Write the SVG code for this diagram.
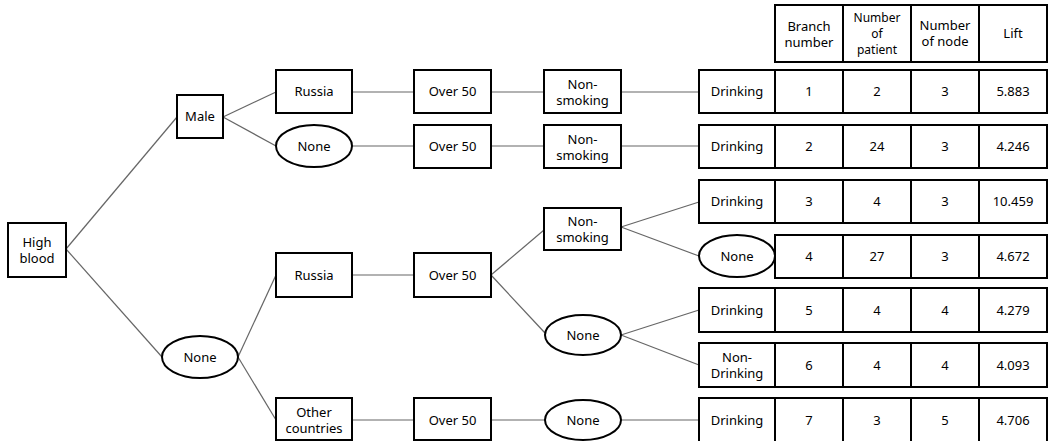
<svg xmlns="http://www.w3.org/2000/svg" width="1049" height="441" viewBox="0 0 1049 441">
<style>
.b{fill:#fff;stroke:#000;stroke-width:2}
.c{stroke:#666;stroke-width:1.2;fill:none}
text{font-family:"Noto Sans","Open Sans",sans-serif;font-size:13px;fill:#000;text-anchor:middle;dominant-baseline:central}
.s{font-size:12px}
</style>
<rect width="1049" height="441" fill="#fff"/>
<g id="connectors">
<line class="c" x1="66" y1="249" x2="177" y2="117"/>
<line class="c" x1="66" y1="249" x2="162" y2="357"/>
<line class="c" x1="223" y1="117" x2="276" y2="92"/>
<line class="c" x1="223" y1="117" x2="276" y2="146"/>
<line class="c" x1="238" y1="357" x2="276" y2="275"/>
<line class="c" x1="238" y1="357" x2="276" y2="420"/>
<line class="c" x1="352" y1="92" x2="414" y2="92"/>
<line class="c" x1="352" y1="146" x2="414" y2="146"/>
<line class="c" x1="352" y1="275" x2="414" y2="275"/>
<line class="c" x1="352" y1="420" x2="414" y2="420"/>
<line class="c" x1="491" y1="92" x2="544" y2="92"/>
<line class="c" x1="491" y1="146" x2="544" y2="146"/>
<line class="c" x1="491" y1="275" x2="544" y2="230"/>
<line class="c" x1="491" y1="275" x2="545" y2="333"/>
<line class="c" x1="491" y1="420" x2="545" y2="420"/>
<line class="c" x1="621" y1="92" x2="699" y2="92"/>
<line class="c" x1="621" y1="146" x2="699" y2="146"/>
<line class="c" x1="621" y1="227" x2="699" y2="202"/>
<line class="c" x1="621" y1="227" x2="699" y2="256"/>
<line class="c" x1="621" y1="335" x2="699" y2="310"/>
<line class="c" x1="621" y1="335" x2="699" y2="365"/>
<line class="c" x1="621" y1="420" x2="699" y2="420"/>
</g>
<g id="n_high"><rect class="b" x="8" y="223" width="58" height="54"/><text x="37" y="242">High</text><text x="37" y="258">blood</text></g>
<g id="n_male"><rect class="b" x="177" y="95" width="46" height="43"/><text x="200" y="116">Male</text></g>
<g id="n_none_g"><ellipse class="b" cx="200" cy="357" rx="38" ry="21"/><text x="200" y="357">None</text></g>
<g id="n_russia1"><rect class="b" x="276" y="70" width="76" height="43"/><text x="314" y="91">Russia</text></g>
<g id="n_none_c1"><ellipse class="b" cx="314" cy="146" rx="38" ry="21"/><text x="314" y="146">None</text></g>
<g id="n_russia2"><rect class="b" x="276" y="253" width="76" height="44"/><text x="314" y="275">Russia</text></g>
<g id="n_other"><rect class="b" x="276" y="398" width="76" height="42"/><text x="314" y="412">Other</text><text x="314" y="428">countries</text></g>
<g id="n_over1"><rect class="b" x="414" y="70" width="77" height="43"/><text x="452.5" y="91">Over 50</text></g>
<g id="n_over2"><rect class="b" x="414" y="125" width="77" height="43"/><text x="452.5" y="146">Over 50</text></g>
<g id="n_over3"><rect class="b" x="414" y="253" width="77" height="44"/><text x="452.5" y="275">Over 50</text></g>
<g id="n_over4"><rect class="b" x="414" y="398" width="77" height="42"/><text x="452.5" y="420">Over 50</text></g>
<g id="n_nonsmk1"><rect class="b" x="544" y="70" width="77" height="43"/><text x="582.5" y="84">Non-</text><text x="582.5" y="100">smoking</text></g>
<g id="n_nonsmk2"><rect class="b" x="544" y="125" width="77" height="43"/><text x="582.5" y="139">Non-</text><text x="582.5" y="155">smoking</text></g>
<g id="n_nonsmk3"><rect class="b" x="544" y="208" width="77" height="42"/><text x="582.5" y="221">Non-</text><text x="582.5" y="237">smoking</text></g>
<g id="n_none_s"><ellipse class="b" cx="583" cy="335" rx="38" ry="20"/><text x="583" y="335">None</text></g>
<g id="n_none_s2"><ellipse class="b" cx="583" cy="420" rx="38" ry="20"/><text x="583" y="420">None</text></g>
<g id="table">
<rect class="b" x="775" y="5" width="68" height="57"/><text x="809" y="26">Branch</text><text x="809" y="42">number</text>
<rect class="b" x="843" y="5" width="68" height="57"/><text class="s" x="877" y="17">Number</text><text class="s" x="877" y="33">of</text><text class="s" x="877" y="49">patient</text>
<rect class="b" x="911" y="5" width="68" height="57"/><text x="945" y="25">Number</text><text x="945" y="41">of node</text>
<rect class="b" x="979" y="5" width="68" height="57"/><text x="1013" y="33">Lift</text>
</g>
<g id="row1"><rect class="b" x="699" y="70" width="76" height="43"/><text x="737" y="91">Drinking</text>
<rect class="b" x="775" y="70" width="68" height="43"/><text x="809" y="91">1</text>
<rect class="b" x="843" y="70" width="68" height="43"/><text x="877" y="91">2</text>
<rect class="b" x="911" y="70" width="68" height="43"/><text x="945" y="91">3</text>
<rect class="b" x="979" y="70" width="68" height="43"/><text x="1013" y="91">5.883</text></g>
<g id="row2"><rect class="b" x="699" y="125" width="76" height="43"/><text x="737" y="146">Drinking</text>
<rect class="b" x="775" y="125" width="68" height="43"/><text x="809" y="146">2</text>
<rect class="b" x="843" y="125" width="68" height="43"/><text x="877" y="146">24</text>
<rect class="b" x="911" y="125" width="68" height="43"/><text x="945" y="146">3</text>
<rect class="b" x="979" y="125" width="68" height="43"/><text x="1013" y="146">4.246</text></g>
<g id="row3"><rect class="b" x="699" y="180" width="76" height="43"/><text x="737" y="201">Drinking</text>
<rect class="b" x="775" y="180" width="68" height="43"/><text x="809" y="201">3</text>
<rect class="b" x="843" y="180" width="68" height="43"/><text x="877" y="201">4</text>
<rect class="b" x="911" y="180" width="68" height="43"/><text x="945" y="201">3</text>
<rect class="b" x="979" y="180" width="68" height="43"/><text x="1013" y="201">10.459</text></g>
<g id="row4"><ellipse class="b" cx="737" cy="256" rx="38" ry="21"/><text x="737" y="256">None</text>
<rect class="b" x="775" y="235" width="68" height="43"/><text x="809" y="256">4</text>
<rect class="b" x="843" y="235" width="68" height="43"/><text x="877" y="256">27</text>
<rect class="b" x="911" y="235" width="68" height="43"/><text x="945" y="256">3</text>
<rect class="b" x="979" y="235" width="68" height="43"/><text x="1013" y="256">4.672</text></g>
<g id="row5"><rect class="b" x="699" y="288" width="76" height="44"/><text x="737" y="310">Drinking</text>
<rect class="b" x="775" y="288" width="68" height="44"/><text x="809" y="310">5</text>
<rect class="b" x="843" y="288" width="68" height="44"/><text x="877" y="310">4</text>
<rect class="b" x="911" y="288" width="68" height="44"/><text x="945" y="310">4</text>
<rect class="b" x="979" y="288" width="68" height="44"/><text x="1013" y="310">4.279</text></g>
<g id="row6"><rect class="b" x="699" y="343" width="76" height="44"/><text x="737" y="357">Non-</text><text x="737" y="373">Drinking</text>
<rect class="b" x="775" y="343" width="68" height="44"/><text x="809" y="365">6</text>
<rect class="b" x="843" y="343" width="68" height="44"/><text x="877" y="365">4</text>
<rect class="b" x="911" y="343" width="68" height="44"/><text x="945" y="365">4</text>
<rect class="b" x="979" y="343" width="68" height="44"/><text x="1013" y="365">4.093</text></g>
<g id="row7"><rect class="b" x="699" y="398" width="76" height="44"/><text x="737" y="420">Drinking</text>
<rect class="b" x="775" y="398" width="68" height="44"/><text x="809" y="420">7</text>
<rect class="b" x="843" y="398" width="68" height="44"/><text x="877" y="420">3</text>
<rect class="b" x="911" y="398" width="68" height="44"/><text x="945" y="420">5</text>
<rect class="b" x="979" y="398" width="68" height="44"/><text x="1013" y="420">4.706</text></g>
</svg>
